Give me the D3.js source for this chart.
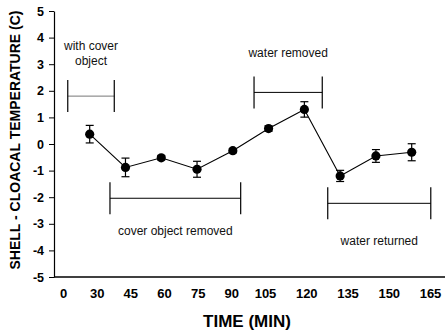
<!DOCTYPE html>
<html>
<head>
<meta charset="utf-8">
<script src="https://cdn.jsdelivr.net/npm/d3@7"></script>
<style>
  body { margin: 0; background: #fff; }
  svg { font-family: "Liberation Sans", Arial, Helvetica, sans-serif; }
  .tick line, .domain { stroke: #000; }
</style>
</head>
<body>
<div id="chart"></div>
<script>
// data
var times = [30, 45, 60, 75, 90, 105, 120, 135, 150, 165]
var means = [0.37, -0.88, -0.52, -0.95, -0.25, 0.58, 1.30, -1.20, -0.45, -0.31]
var sems  = [0.33, 0.35, 0.08, 0.30, 0.08, 0.10, 0.29, 0.21, 0.24, 0.32]
var xLabels = ["0", "30", "45", "60", "75", "90", "105", "120", "135", "150", "165"]
var yTicks = [-5, -4, -3, -2, -1, 0, 1, 2, 3, 4, 5]

// bracketed periods: start/end (min), bar level and text level (C)
var periodText  = [["with cover", "object"], ["cover object removed"], ["water removed"], ["water returned"]]
var periodStart = [20.8, 38.5, 98.9, 129.8]
var periodEnd   = [40.3, 93.3, 127.5, 173]
var periodLevel = [1.8, -2.04, 1.94, -2.23]
var periodTextAt = [3.53, -3.42, 3.27, -3.80]

var width = 445, height = 331

var svg = d3.select("#chart").append("svg")
    .attr("width", width).attr("height", height)

var x = d3.scaleLinear().domain([30, 165]).range([89.7, 411.7])
var y = d3.scaleLinear().domain([-5, 5]).range([277, 11])
// the printed time labels are not spaced like the data
var xLab = d3.scaleLinear().domain([0, 6, 10]).range([63, 265, 430])

// y axis
svg.append("g").attr("transform", "translate(54,0)")
    .call(d3.axisLeft(y).tickValues(yTicks).tickFormat(d => String(d))
        .tickSize(5).tickSizeOuter(0).tickPadding(5))
    .call(g => g.selectAll("text").attr("font-size", 12.5).attr("font-weight", "bold")
        .attr("fill", "#000").attr("font-family", null))
    .call(g => g.select(".domain").attr("stroke-width", 1.2))

// x axis line + labels
svg.append("line").attr("x1", 54).attr("x2", 445).attr("y1", y(-5)).attr("y2", y(-5))
    .attr("stroke", "#000").attr("stroke-width", 1.5)
svg.append("g").attr("transform", "translate(0," + y(-5) + ")")
    .call(d3.axisBottom(xLab).tickValues(d3.range(xLabels.length))
        .tickFormat(i => xLabels[i]).tickSize(0).tickPadding(12))
    .call(g => g.select(".domain").remove())
    .call(g => g.selectAll("text").attr("font-size", 13).attr("font-weight", "bold")
        .attr("fill", "#000").attr("font-family", null))

// axis titles
svg.append("text").attr("transform", "translate(20,140) rotate(-90)")
    .attr("text-anchor", "middle").attr("font-size", 14).attr("font-weight", "bold")
    .text("SHELL - CLOACAL TEMPERATURE (C)")
svg.append("text").attr("x", 247).attr("y", 327)
    .attr("text-anchor", "middle").attr("font-size", 17).attr("font-weight", "bold")
    .text("TIME (MIN)")

// period brackets
periodText.forEach(function(lines, i){
    var x1 = x(periodStart[i]), x2 = x(periodEnd[i]), yl = y(periodLevel[i])
    var g = svg.append("g").attr("stroke", "#000").attr("stroke-width", 1.2)
    g.append("line").attr("x1", x1).attr("x2", x2).attr("y1", yl).attr("y2", yl)
        .attr("stroke", i == 0 ? "#777" : "#000").attr("stroke-width", 1)
    g.selectAll(".end").data([x1, x2]).enter().append("line")
        .attr("x1", d => d).attr("x2", d => d)
        .attr("y1", yl - 16).attr("y2", yl + 16)
    var t = svg.append("text").attr("text-anchor", "middle").attr("font-size", 12)
        .attr("fill", "#111")
    lines.forEach(function(s, k){
        t.append("tspan").attr("x", (x1 + x2) / 2)
            .attr("y", y(periodTextAt[i]) + k * 15).text(s)
    })
})

// line
var pts = times.map((t, i) => [t, means[i]])
svg.append("path").datum(pts)
    .attr("fill", "none").attr("stroke", "#000").attr("stroke-width", 1.1)
    .attr("d", d3.line().x(d => x(d[0])).y(d => y(d[1])))

// error bars
var eb = svg.append("g").attr("stroke", "#000").attr("stroke-width", 1.2)
times.forEach(function(t, i){
    var cx = x(t), top = y(means[i] + sems[i]), bot = y(means[i] - sems[i])
    eb.append("line").attr("x1", cx).attr("x2", cx).attr("y1", top).attr("y2", bot)
    eb.append("line").attr("x1", cx - 4).attr("x2", cx + 4).attr("y1", top).attr("y2", top)
    eb.append("line").attr("x1", cx - 4).attr("x2", cx + 4).attr("y1", bot).attr("y2", bot)
})

// points
svg.selectAll(".pt").data(times).enter().append("circle")
    .attr("class", "pt")
    .attr("cx", d => x(d)).attr("cy", (d, i) => y(means[i]))
    .attr("r", 4.6).attr("fill", "#000")
</script>
</body>
</html>
